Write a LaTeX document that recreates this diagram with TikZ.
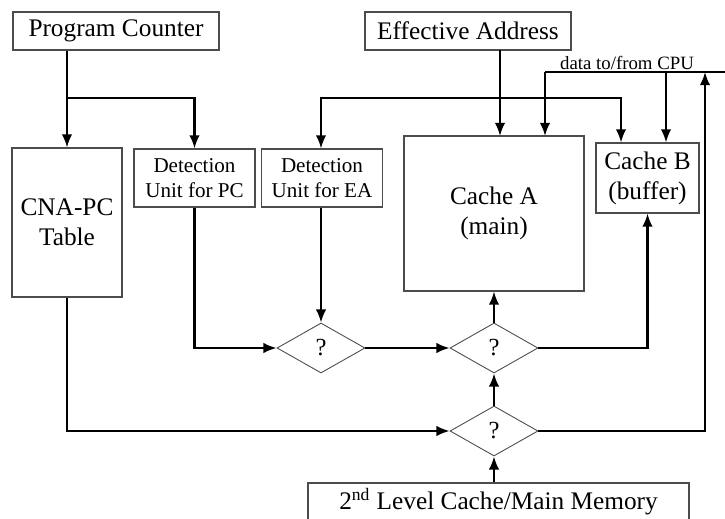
\documentclass[tikz,border=0pt]{standalone}
\usepackage{fontspec}
\setmainfont{Liberation Serif}
\usetikzlibrary{arrows.meta,shapes.geometric}

\tikzset{
  block/.style={draw=black!70, line width=0.6pt, fill=white, align=center, inner sep=0pt},
  decision/.style={draw=black!70, line width=0.5pt, shape=diamond, aspect=1.76, minimum width=1.76cm, minimum height=1cm, inner sep=0pt, font=\fontsize{14}{16}\selectfont},
  link/.style={line width=1.2pt, -{Latex[length=7.5pt,width=6pt]}},
}

\begin{document}
\begin{tikzpicture}
\useasboundingbox (0,0) rectangle (14.5,10.36);

\node[block, minimum width=4.12cm, minimum height=0.76cm, font=\fontsize{14.4}{16}\selectfont] (pc) at (2.32,9.74) {Program Counter};
\node[block, minimum width=4.12cm, minimum height=0.76cm, font=\fontsize{14.4}{16}\selectfont] (ea) at (9.36,9.74) {Effective Address};

\node[block, minimum width=2.2cm, minimum height=2.98cm, font=\fontsize{14.4}{17}\selectfont] (cna) at (1.34,5.91) {CNA-PC\\Table};
\node[block, minimum width=2.42cm, minimum height=1.16cm, font=\fontsize{12}{14}\selectfont] (dpc) at (3.89,6.80) {Detection\\Unit for PC};
\node[block, minimum width=2.42cm, minimum height=1.16cm, font=\fontsize{12}{14}\selectfont] (dea) at (6.44,6.80) {Detection\\Unit for EA};
\node[block, minimum width=3.6cm, minimum height=3.1cm, font=\fontsize{14.4}{17}\selectfont] (ca) at (9.88,6.09) {Cache A\\(main)};
\node[block, minimum width=2.06cm, minimum height=1.4cm, font=\fontsize{14.4}{17}\selectfont] (cb) at (12.95,6.80) {Cache B\\(buffer)};

\node[decision] (q1) at (6.42,3.40) {?};
\node[decision] (q2) at (9.88,3.40) {?};
\node[decision] (q3) at (9.88,1.74) {?};

\node[block, minimum width=7.62cm, minimum height=0.76cm, font=\fontsize{14.4}{16}\selectfont] (mem) at (9.97,0.32) {2\textsuperscript{nd} Level Cache/Main Memory};

% program counter and effective address
\coordinate (split) at (cna.north |- 0,8.40);
\draw[link] (pc.south -| cna.north) -- (cna.north);
\draw[link] (split) -| (dpc.north);
\draw[link, {Latex[length=7.5pt,width=6pt]}-{Latex[length=7.5pt,width=6pt]}] (q1.north |- dea.north) |- (12.42,8.40) -- (12.42,6.80 |- cb.north);
\draw[link] (10.0,9.36) -- (10.0,7.64);

% data to/from CPU
\coordinate (bus) at (14.5,8.92);
\draw[line width=1.2pt] (bus) -- (10.9,8.92);
\draw[link] (10.9,8.92) -- (10.9,7.64);
\draw[link] (13.32,8.92) -- (13.32,6.80 |- cb.north);
\node[font=\fontsize{10.7}{12}\selectfont, anchor=south, inner sep=1pt] at (12.54,8.93) {data to/from CPU};

% decisions
\draw[link] (dpc.south) |- (q1.west);
\draw[link] (q1.north |- dea.south) -- (q1.north);
\draw[link] (q1.east) -- (q2.west);
\draw[link] (q2.north) -- (ca.south);
\draw[link] (q2.east) -| (cb.south);
\draw[link] (cna.south) |- (q3.west);
\draw[link] (q3.north) -- (q2.south);
\draw[link] (q3.east) -| (14.10,8.92);
\draw[link] (mem.north -| q3.south) -- (q3.south);
\end{tikzpicture}
\end{document}
